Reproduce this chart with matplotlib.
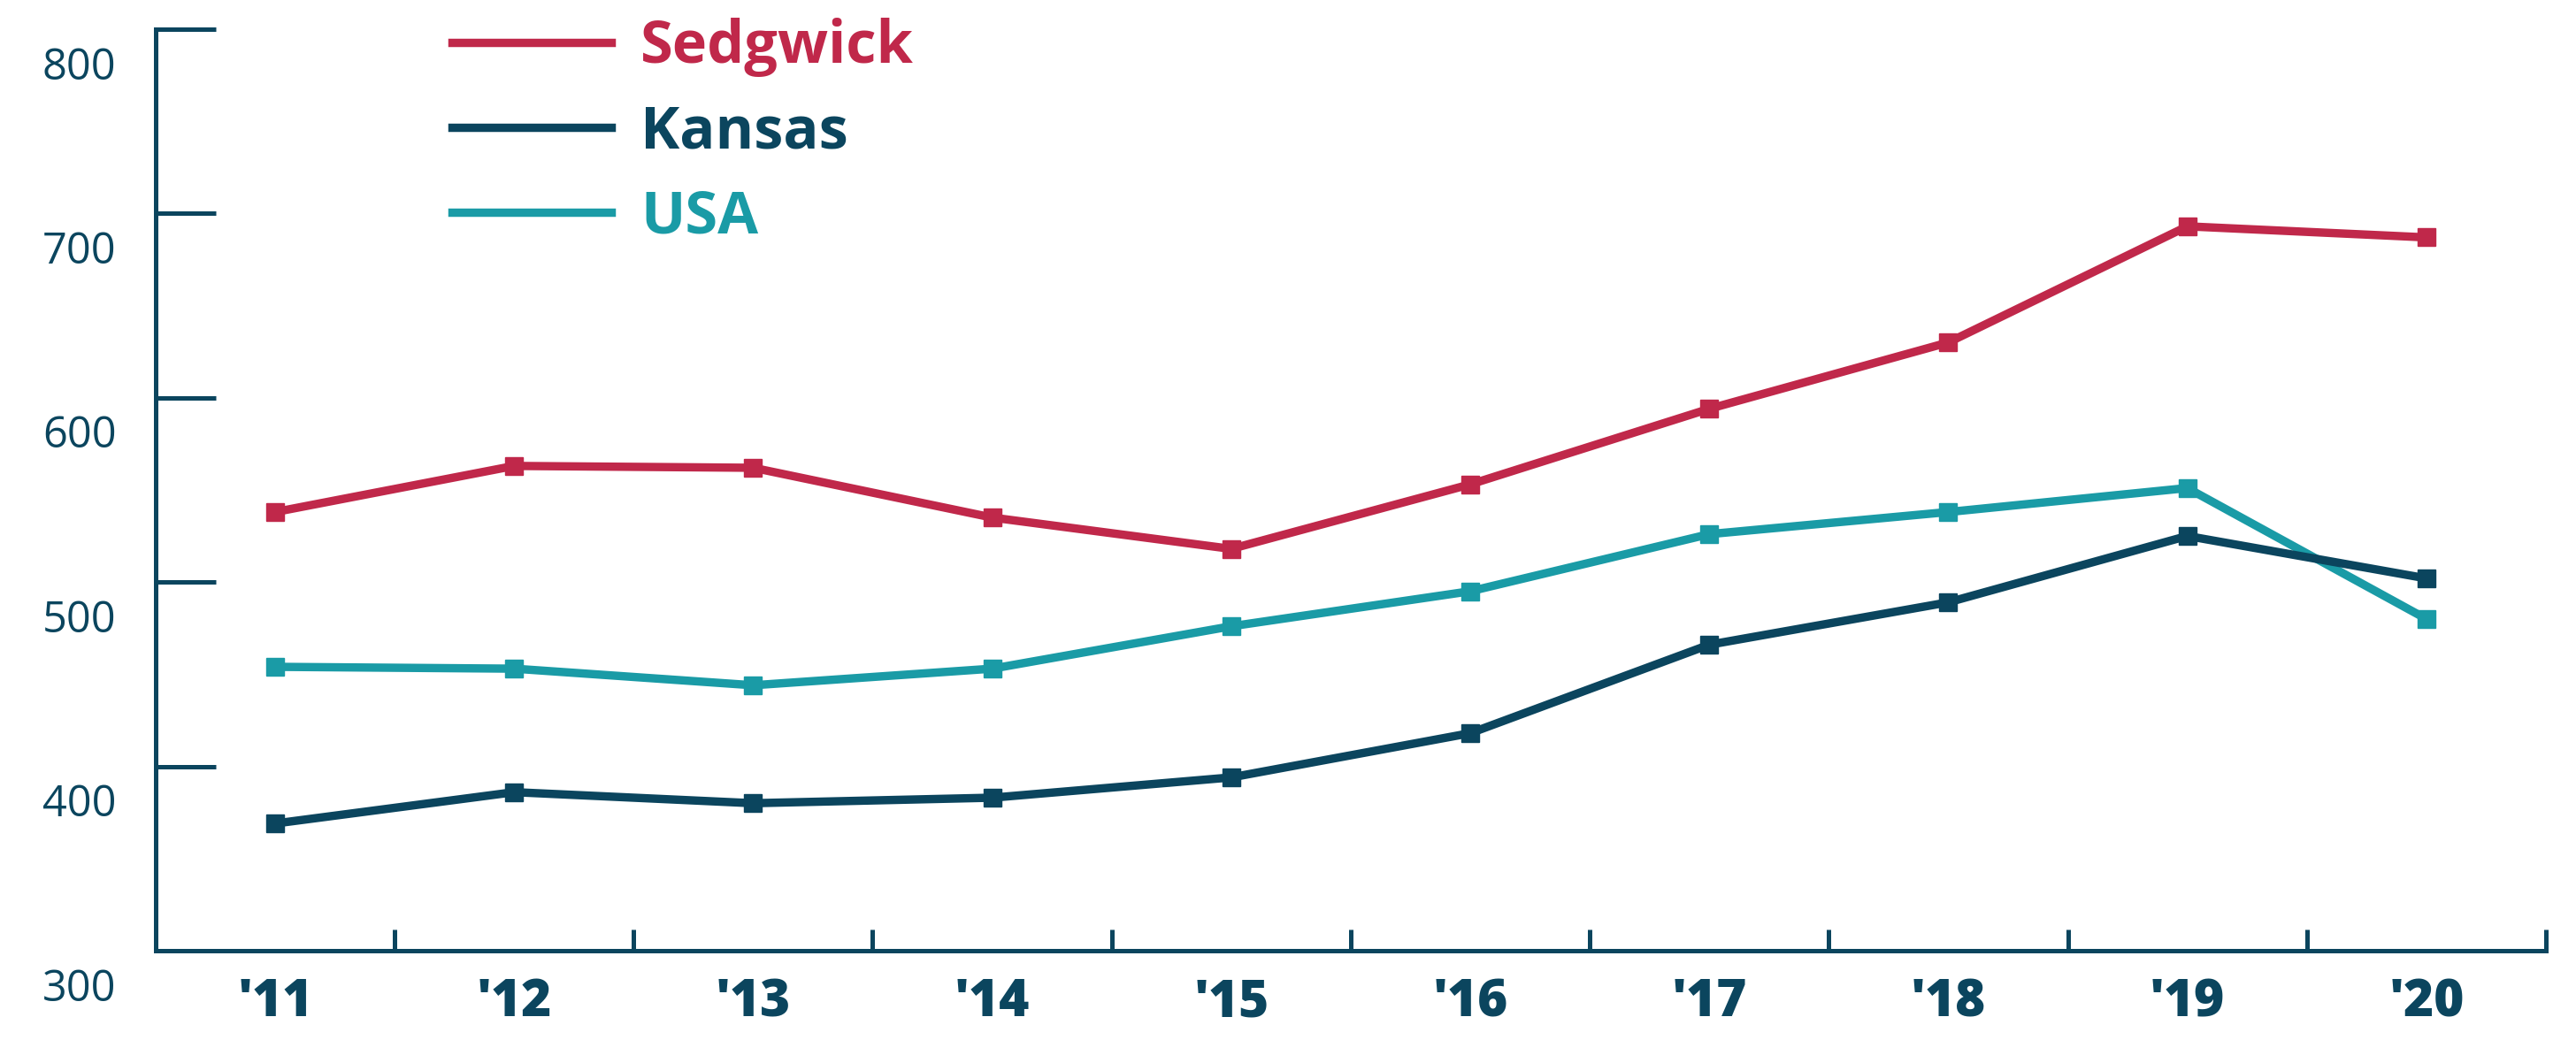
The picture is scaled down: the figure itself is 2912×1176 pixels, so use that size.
import matplotlib.pyplot as plt
import numpy as np
from matplotlib.lines import Line2D
from matplotlib.transforms import ScaledTranslation

years = ["'11", "'12", "'13", "'14", "'15", "'16", "'17", "'18", "'19", "'20"]
sedgwick = [538, 563, 562, 535, 518, 553, 594, 630, 693, 687]
kansas = [369, 386, 380, 383, 394, 418, 466, 489, 525, 502]
usa = [454, 453, 444, 453, 476, 495, 526, 538, 551, 480]

navy = '#0b455e'
red = '#c0284a'
teal = '#1a9ba6'

plt.rcParams['font.family'] = ['Open Sans', 'DejaVu Sans']

fig = plt.figure(figsize=(29.12, 11.76), dpi=100)
ax = fig.add_axes([0.0604, 0.0859, 0.9279, 0.8861])

x = np.arange(len(years)) + 0.5
ax.plot(x, usa, color=teal, linewidth=6.8, marker='s', markersize=15, label='USA')
ax.plot(x, kansas, color=navy, linewidth=6.8, marker='s', markersize=15, label='Kansas')
ax.plot(x, sedgwick, color=red, linewidth=6.8, marker='s', markersize=15, label='Sedgwick')

ax.set_xlim(0, 10)
ax.set_ylim(300, 800)

for s in ['top', 'right']:
    ax.spines[s].set_visible(False)
for s in ['left', 'bottom']:
    ax.spines[s].set_color(navy)
    ax.spines[s].set_linewidth(3.6)
    ax.spines[s].set_capstyle('projecting')

# y axis: long inward ticks, labels sit a bit below each tick
ax.set_yticks([300, 400, 500, 600, 700, 800])
ax.tick_params(axis='y', direction='in', length=49, width=3.6, color=navy,
               labelsize=35, labelcolor=navy, pad=32)
for lab in ax.get_yticklabels():
    lab.set_transform(lab.get_transform() + ScaledTranslation(0, -0.38, fig.dpi_scale_trans))

# x axis: ticks between years, labels at the centres
ax.set_xticks(np.arange(1, 11))
ax.set_xticklabels([])
ax.set_xticks(x, minor=True)
ax.set_xticklabels(years, minor=True, fontsize=42, fontweight='heavy', color=navy)
ax.tick_params(axis='x', which='major', direction='in', length=17, width=3.6, color=navy)
ax.tick_params(axis='x', which='minor', length=0, pad=21)

handles = [Line2D([], [], color=red, linewidth=6.8),
           Line2D([], [], color=navy, linewidth=6.8),
           Line2D([], [], color=teal, linewidth=6.8)]
leg = fig.legend(handles, ['Sedgwick', 'Kansas', 'USA'], loc='upper left',
                 bbox_to_anchor=(511 / 2912, 1 - 20 / 1176), frameon=False,
                 prop={'size': 48, 'weight': 'bold'}, handlelength=2.7,
                 handletextpad=0.5, labelspacing=0.44, borderpad=0, borderaxespad=0,
                 labelcolor=[red, navy, teal])

plt.savefig('out.png', dpi=100)
